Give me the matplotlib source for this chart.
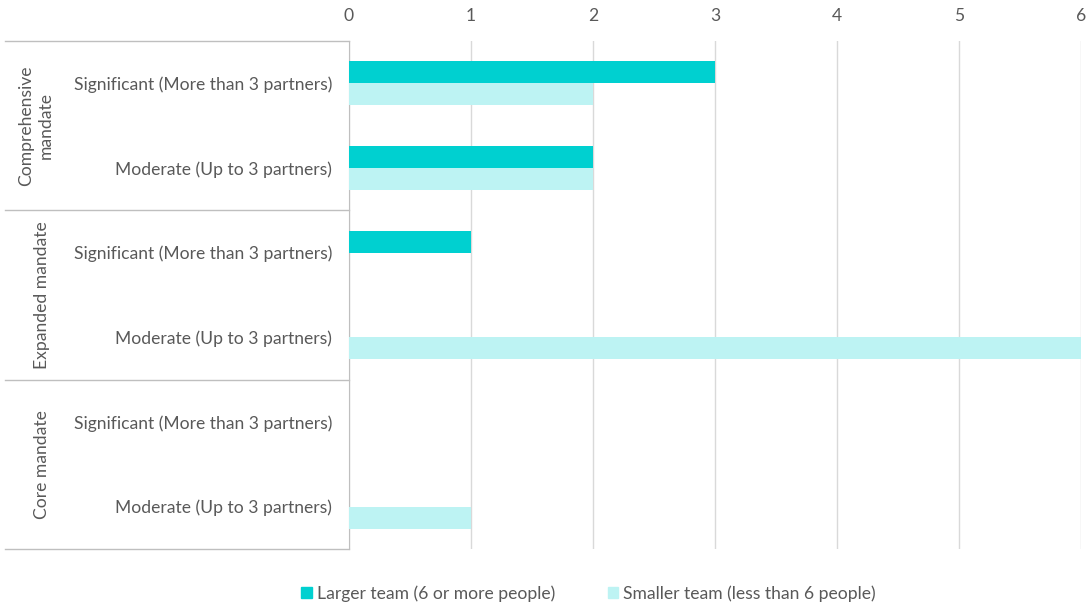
import matplotlib.pyplot as plt
import matplotlib.transforms as mtransforms
from matplotlib.patches import Patch

plt.rcParams['font.family'] = ['Lato', 'DejaVu Sans']

# Rows listed top to bottom
groups = ['Comprehensive\nmandate', 'Expanded mandate', 'Core mandate']
levels = ['Significant (More than 3 partners)', 'Moderate (Up to 3 partners)']
larger = [3, 2, 1, 0, 0, 0]
smaller = [2, 2, 0, 6, 0, 1]
series_names = ['Larger team (6 or more people)', 'Smaller team (less than 6 people)']

dark = '#00d0d0'
light = '#bdf3f3'
text_col = '#595959'
line_col = '#bfbfbf'
fs = 12.6

fig = plt.figure(figsize=(10.9, 6.03), dpi=100)
ax = fig.add_axes([0.3202, 0.0896, 0.6715, 0.8424])

n = len(larger)
ypos = [n - 1 - i for i in range(n)]
h = 0.26
ax.barh([y + h / 2 for y in ypos], larger, height=h, color=dark, zorder=3)
ax.barh([y - h / 2 for y in ypos], smaller, height=h, color=light, zorder=3)

ax.set_xlim(0, 6)
ax.set_ylim(-0.5, n - 0.5)
ax.xaxis.tick_top()
ax.set_xticks(range(7))
ax.tick_params(axis='x', length=0, pad=12, labelsize=fs, labelcolor=text_col)
ax.set_yticks(ypos)
ax.set_yticklabels(levels * len(groups))
ax.tick_params(axis='y', length=0, pad=12, labelsize=fs, labelcolor=text_col)
ax.grid(axis='x', color='#d9d9d9', linewidth=1, zorder=0)
for s in ['top', 'right', 'bottom']:
    ax.spines[s].set_visible(False)
ax.spines['left'].set_color(line_col)

# group separators and labels on the left
trans = mtransforms.blended_transform_factory(fig.transFigure, ax.transData)
x0 = 5 / 1090
ax_left = 0.3202
for k in range(len(groups) + 1):
    yb = n - 0.5 - 2 * k
    ax.plot([x0, ax_left], [yb, yb], transform=trans, color=line_col,
            linewidth=1, clip_on=False)
for k, g in enumerate(groups):
    yc = n - 1.5 - 2 * k
    xg = 36 if '\n' in g else 42
    ax.text(xg / 1090, yc, g, transform=trans, rotation=90, ha='center',
            va='center', fontsize=fs, color=text_col, linespacing=1.3)

handles = [Patch(color=dark), Patch(color=light)]
fig.legend(handles, series_names, loc='lower center', ncol=2, frameon=False,
           bbox_to_anchor=(0.54, -0.024), fontsize=fs, handlelength=0.6,
           handleheight=0.6, handletextpad=0.3, columnspacing=3.0,
           labelcolor=text_col)

fig.savefig('out.png', dpi=100, facecolor='white')
